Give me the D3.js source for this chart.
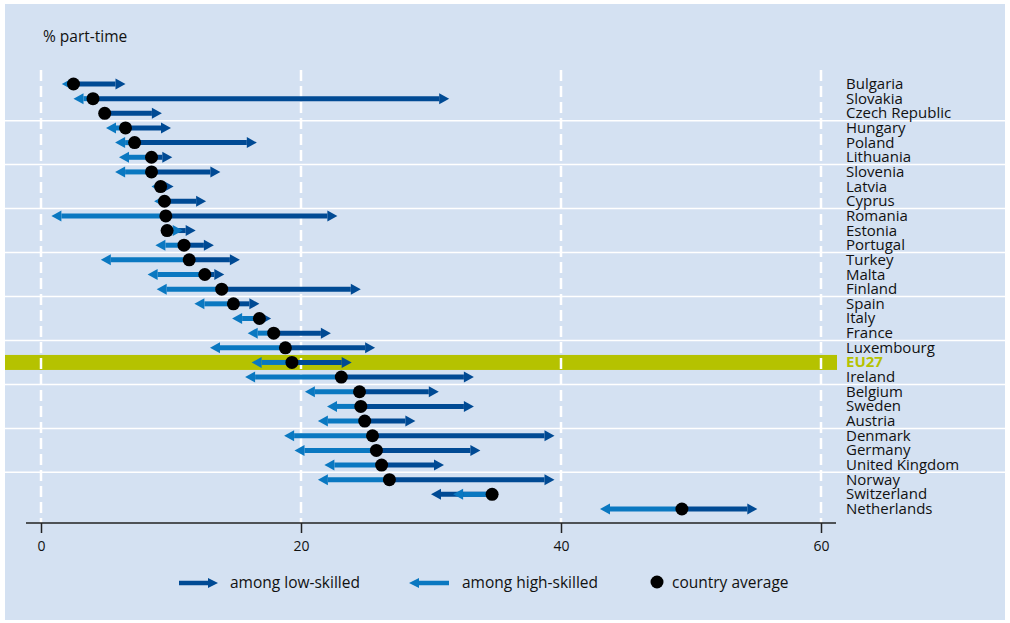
<!DOCTYPE html>
<html><head><meta charset="utf-8">
<script src="https://cdn.jsdelivr.net/npm/d3@7"></script>
<style>
html,body{margin:0;padding:0;background:#fff;}
svg text{font-family:"Open Sans","Noto Sans",sans-serif;}
</style></head>
<body><svg id="c" width="1010" height="623"></svg>
<script>
const countries = ["Bulgaria","Slovakia","Czech Republic","Hungary","Poland","Lithuania","Slovenia","Latvia","Cyprus","Romania","Estonia","Portugal","Turkey","Malta","Finland","Spain","Italy","France","Luxembourg","EU27","Ireland","Belgium","Sweden","Austria","Denmark","Germany","United Kingdom","Norway","Switzerland","Netherlands"];
const average = [2.5,4.0,4.9,6.5,7.2,8.5,8.5,9.2,9.5,9.6,9.7,11.0,11.4,12.6,13.9,14.8,16.8,17.9,18.8,19.3,23.1,24.5,24.6,24.9,25.5,25.8,26.2,26.8,34.7,49.3];
const lowSkilled = [6.5,31.4,9.3,10.0,16.6,10.1,13.8,10.2,12.7,22.8,11.9,13.3,15.3,14.1,24.6,16.8,17.7,22.3,25.7,23.9,33.3,30.6,33.3,28.8,39.5,33.8,31.0,39.5,30.0,55.1];
const highSkilled = [1.6,2.5,4.6,5.0,5.7,6.0,5.7,8.5,8.7,0.8,10.9,8.8,4.6,8.2,8.9,11.8,14.7,15.9,13.0,16.2,15.7,20.3,22.0,21.3,18.7,19.5,21.8,21.3,31.7,43.0];
const xTicks = [0,20,40,60];

const DARK="#004a94", LIGHT="#0a78c1", BG="#d4e1f2", OLIVE="#b5c200";
const svg=d3.select("#c");
svg.append("rect").attr("x",5).attr("y",4).attr("width",1000).attr("height",616).attr("fill",BG);

const x=d3.scaleLinear().domain([0,60]).range([41,821]);
const y=d3.scalePoint().domain(countries).range([84,509]);

// horizontal white separators every three rows
const seps=[];
for(let i=3;i<countries.length;i+=3){ if(i<=27) seps.push((y(countries[i-1])+y(countries[i]))/2); }
svg.selectAll("line.sep").data(seps).join("line").attr("class","sep")
 .attr("x1",5).attr("x2",1005).attr("y1",d=>d).attr("y2",d=>d)
 .attr("stroke","#ffffff").attr("stroke-width",1.5);

// EU27 band
svg.append("rect").attr("x",5).attr("y",y("EU27")-7.5).attr("width",832).attr("height",15).attr("fill",OLIVE);

// vertical dashed gridlines
svg.selectAll("line.grid").data(xTicks).join("line").attr("class","grid")
 .attr("x1",d=>x(d)).attr("x2",d=>x(d)).attr("y1",70).attr("y2",523)
 .attr("stroke","#ffffff").attr("stroke-width",2.5).attr("stroke-dasharray","11,5");

// axis
const axisG=svg.append("g").attr("transform","translate(0,523)")
 .call(d3.axisBottom(x).tickValues(xTicks).tickSize(10).tickSizeOuter(0).tickPadding(8));
axisG.select(".domain").attr("stroke","#222").attr("stroke-width",1.5).attr("d","M26,0H836");
axisG.selectAll(".tick line").attr("stroke","#222").attr("stroke-width",1.5);
axisG.selectAll(".tick text").attr("font-size",14).attr("fill","#111");

function arrow(g, x0, x1, yy, color, shaft, headL, headW){
  const dir = x1>=x0?1:-1;
  const len=Math.abs(x1-x0);
  const hl=Math.min(headL,len);
  const xb=x1-dir*hl;
  if(len>hl) g.append("line").attr("x1",x0).attr("x2",xb).attr("y1",yy).attr("y2",yy)
    .attr("stroke",color).attr("stroke-width",shaft);
  g.append("path").attr("d",`M${x1},${yy}L${xb},${yy-headW}L${xb},${yy+headW}Z`).attr("fill",color);
}

const marks=svg.append("g");
countries.forEach((c,i)=>{
  arrow(marks,x(average[i]),x(lowSkilled[i]),y(c),DARK,5,10,5.5);
});
countries.forEach((c,i)=>{
  arrow(marks,x(average[i]),x(highSkilled[i]),y(c),LIGHT,5,10,5.5);
});
marks.selectAll("circle").data(countries).join("circle")
 .attr("cx",(d,i)=>x(average[i])).attr("cy",d=>y(d)).attr("r",6.5).attr("fill","#000");

// labels
svg.selectAll("text.lab").data(countries).join("text").attr("class","lab")
 .attr("x",846).attr("y",d=>y(d)+5).attr("font-size",15)
 .attr("fill",d=>d==="EU27"?OLIVE:"#111").attr("font-weight",d=>d==="EU27"?"bold":"normal")
 .text(d=>d);

svg.append("text").attr("x",43).attr("y",42).attr("font-size",15.5).attr("fill","#111").text("% part-time");

// legend
const lg=svg.append("g");
arrow(lg,179,218,583,DARK,4.5,10,5);
lg.append("text").attr("x",230).attr("y",588).attr("font-size",15.5).attr("fill","#111").text("among low-skilled");
arrow(lg,449,409,583,LIGHT,4.5,10,5);
lg.append("text").attr("x",462).attr("y",588).attr("font-size",15.5).attr("fill","#111").text("among high-skilled");
lg.append("circle").attr("cx",657).attr("cy",582).attr("r",6.5).attr("fill","#000");
lg.append("text").attr("x",672).attr("y",588).attr("font-size",15.5).attr("fill","#111").text("country average");
</script></body></html>
